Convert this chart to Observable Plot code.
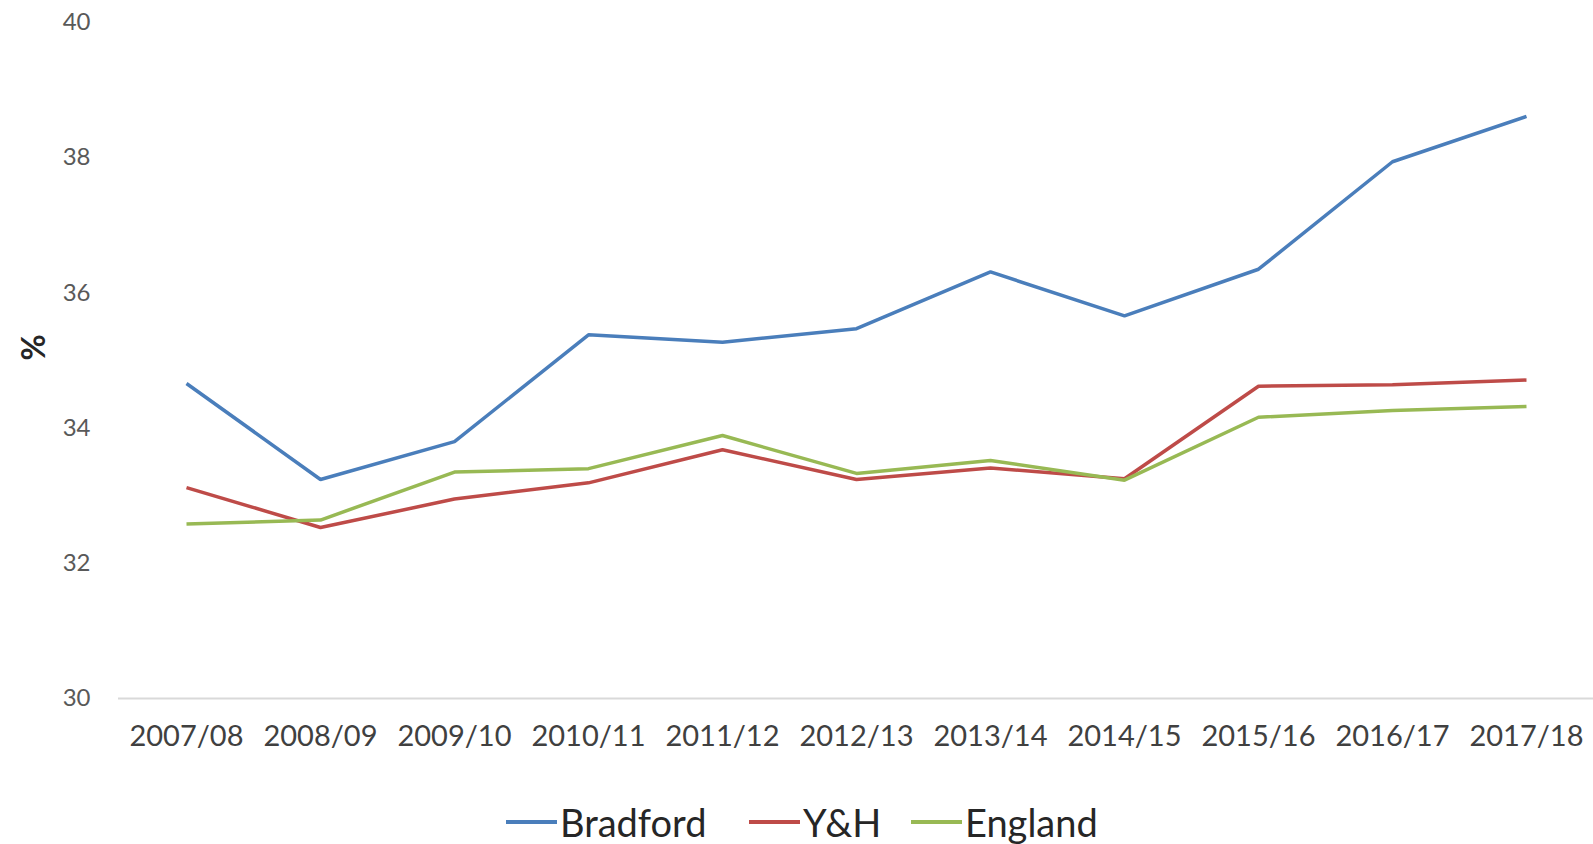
<!DOCTYPE html>
<html>
<head>
<meta charset="utf-8">
<script src="https://cdn.jsdelivr.net/npm/d3@7"></script>
<script src="https://cdn.jsdelivr.net/npm/@observablehq/plot@0.6"></script>
<style>
  html, body { margin: 0; padding: 0; background: #fff; }
  body { width: 1593px; height: 844px; overflow: hidden; font-family: Lato, "Open Sans", sans-serif; }
  #legend { position: relative; height: 44px; font-size: 38px; color: #262626; }
  .item { position: absolute; top: 0; display: flex; align-items: center; height: 44px; }
  .sw { display: inline-block; width: 51px; height: 4px; margin-right: 3px; }
</style>
</head>
<body>
<div id="chart"></div>
<div id="legend"></div>
<script>
const years = ["2007/08","2008/09","2009/10","2010/11","2011/12","2012/13","2013/14","2014/15","2015/16","2016/17","2017/18"];
const seriesNames = ["Bradford", "Y&H", "England"];
const bradford = [34.66, 33.24, 33.80, 35.38, 35.27, 35.47, 36.31, 35.66, 36.35, 37.94, 38.61];
const yh       = [33.12, 32.53, 32.95, 33.19, 33.68, 33.24, 33.41, 33.25, 34.62, 34.64, 34.71];
const england  = [32.58, 32.64, 33.35, 33.40, 33.89, 33.33, 33.52, 33.23, 34.16, 34.26, 34.32];
const colors = ["#4A7EBB", "#BE4B48", "#98B954"];
const yTicks = [30, 32, 34, 36, 38, 40];

const valuesBySeries = [bradford, yh, england];
const data = [];
seriesNames.forEach((s, i) => years.forEach((yr, j) => data.push({series: s, year: yr, value: valuesBySeries[i][j]})));

const chart = Plot.plot({
  width: 1593,
  height: 800,
  marginLeft: 118,
  marginRight: 0,
  marginTop: 22,
  marginBottom: 102,
  style: {fontFamily: "Lato, 'Open Sans', sans-serif", background: "#fff"},
  x: {type: "band", domain: years, padding: 0, label: null},
  y: {domain: [30, 40], label: null},
  color: {domain: seriesNames, range: colors},
  marks: [
    Plot.ruleY([30], {stroke: "#D9D9D9", strokeWidth: 2}),
    Plot.axisY({ticks: yTicks, tickSize: 0, tickPadding: 28, fontSize: 24, fill: "#595959", label: null}),
    Plot.axisX({tickSize: 0, tickPadding: 27, fontSize: 29, fill: "#404040", label: null}),
    Plot.text(["%"], {frameAnchor: "left", rotate: -90, dx: -84, fontSize: 32, fontWeight: "bold", fill: "#262626"}),
    Plot.line(data, {x: "year", y: "value", z: "series", stroke: "series", strokeWidth: 3.5, strokeLinejoin: "miter", strokeLinecap: "butt"})
  ]
});
document.getElementById("chart").appendChild(chart);

const legendPos = [506, 749, 911];
const legend = document.getElementById("legend");
seriesNames.forEach((s, i) => {
  const item = document.createElement("div");
  item.className = "item";
  item.style.left = legendPos[i] + "px";
  const sw = document.createElement("span");
  sw.className = "sw";
  sw.style.background = colors[i];
  const t = document.createElement("span");
  t.textContent = s;
  item.appendChild(sw);
  item.appendChild(t);
  legend.appendChild(item);
});
</script>
</body>
</html>
